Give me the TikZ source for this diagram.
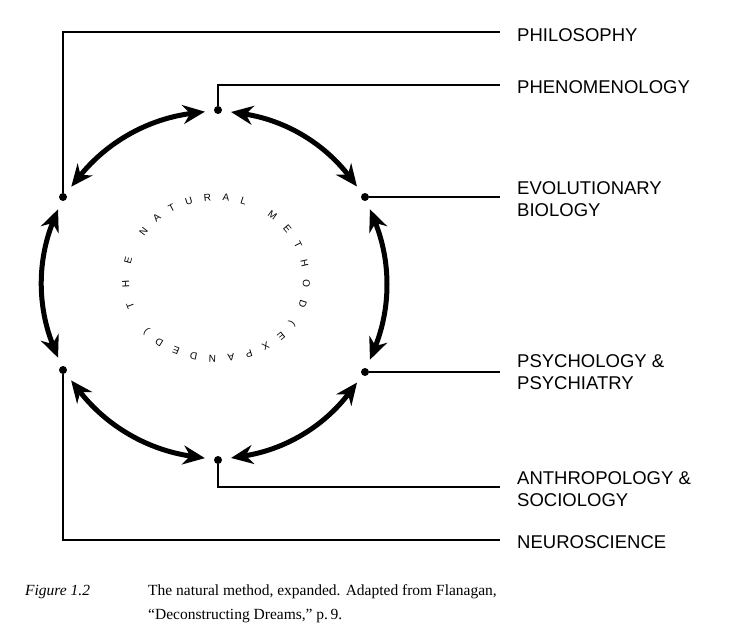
\documentclass[tikz,border=0pt]{standalone}
\usepackage{fontspec}
\setmainfont{Liberation Serif}
\newfontfamily\lab{Liberation Sans}
\usetikzlibrary{arrows.meta,decorations.text,calc}
\begin{document}
\begin{tikzpicture}[x=1pt,y=1pt,
  dot/.style={circle,fill=black,inner sep=0pt,minimum size=8pt},
  lab/.style={anchor=west,font=\lab\fontsize{18.5}{22.5}\selectfont,align=left,inner sep=0pt},
  conn/.style={line width=1.5pt},
  bigarr/.style={line width=5pt,{Stealth[length=22pt,width=19pt]}-{Stealth[length=22pt,width=19pt]},shorten <=9pt,shorten >=9pt},
  arctext/.style={decorate,decoration={text along path,text align=fit to path,text={#1},
    text format delimiters={|}{|}}}]
\useasboundingbox (0,0) rectangle (750,-643);
% dots
\node[dot] (t) at (218,-110) {};
\node[dot] (ur) at (365,-197) {};
\node[dot] (lr) at (365,-372) {};
\node[dot] (b) at (218,-460) {};
\node[dot] (ll) at (63,-370) {};
\node[dot] (ul) at (63,-197) {};
% corners
\coordinate (c1) at (63,-32);
\coordinate (c2) at (218,-85);
\coordinate (c5) at (218,-487);
\coordinate (c6) at (63,-540);
\coordinate (e1) at (500,-32);
\coordinate (e2) at (500,-85);
\coordinate (e3) at (500,-197);
\coordinate (e4) at (500,-372);
\coordinate (e5) at (500,-487);
\coordinate (e6) at (500,-540);
\draw[conn] (ul) -- (c1) -- (e1);
\draw[conn] (t) -- (c2) -- (e2);
\draw[conn] (ur) -- (e3);
\draw[conn] (lr) -- (e4);
\draw[conn] (b) -- (c5) -- (e5);
\draw[conn] (ll) -- (c6) -- (e6);
% labels
\node[lab] at (517,-35) {PHILOSOPHY};
\node[lab] at (517,-87) {PHENOMENOLOGY};
\node[lab] at (517,-199) {EVOLUTIONARY\\BIOLOGY};
\node[lab] at (517,-372) {PSYCHOLOGY \&\\PSYCHIATRY};
\node[lab] at (517,-489) {ANTHROPOLOGY \&\\SOCIOLOGY};
\node[lab] at (517,-542) {NEUROSCIENCE};
% arrows
\draw[bigarr] (t) to[bend left=22] (ur);
\draw[bigarr] (ur) to[bend left=22] (lr);
\draw[bigarr] (lr) to[bend left=22] (b);
\draw[bigarr] (b) to[bend left=22] (ll);
\draw[bigarr] (ll) to[bend left=22] (ul);
\draw[bigarr] (ul) to[bend left=22] (t);
% circular text
\begin{scope}[shift={(216,-280)},scale=1.5,transform shape]
\tikzset{ring/.style={arctext={|\lab|#1}}}
\path[ring={THE}] (201:58 and 52) arc[start angle=201,end angle=164,x radius=58,y radius=52];
\path[ring={NATURAL}] (147:57 and 53) arc[start angle=147,end angle=70,x radius=57,y radius=53];
\path[ring={METHOD}] (54:58 and 53) arc[start angle=54,end angle=-19,x radius=58,y radius=53];
\path[ring={(EXPANDED)}] (-33:60 and 50) arc[start angle=-33,end angle=-140,x radius=60,y radius=50];
\end{scope}
% caption
\node[anchor=base west,inner sep=0pt,font=\fontsize{15.5}{18}\selectfont\itshape] at (25,-595) {Figure 1.2};
\node[anchor=base west,inner sep=0pt,font=\fontsize{15.5}{18}\selectfont] at (148,-595) {The natural method, expanded. Adapted from Flanagan,};
\node[anchor=base west,inner sep=0pt,font=\fontsize{15.5}{18}\selectfont] at (148,-619) {``Deconstructing Dreams,'' p.\,9.};
\end{tikzpicture}
\end{document}
